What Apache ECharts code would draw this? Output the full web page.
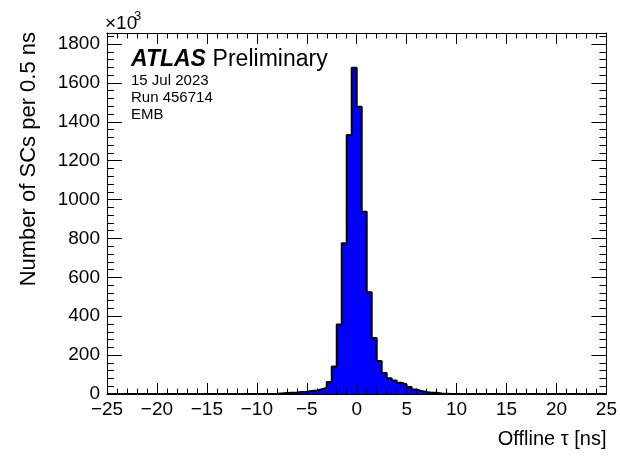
<!DOCTYPE html>
<html>
<head>
<meta charset="utf-8">
<script src="https://cdn.jsdelivr.net/npm/echarts@6/dist/echarts.min.js"></script>
<style>
html,body{margin:0;padding:0;background:#fff;}
#chart{width:620px;height:457px;}
</style>
</head>
<body>
<div id="chart"></div>
<script>
// Bin low edges (ns), 0.5 ns bins, region containing entries
const binLow = [-10,-9.5,-9,-8.5,-8,-7.5,-7,-6.5,-6,-5.5,
                -5,-4.5,-4,-3.5,-3,-2.5,-2,-1.5,-1,-0.5,
                0,0.5,1,1.5,2,2.5,3,3.5,4,4.5,
                5,5.5,6,6.5,7,7.5,8,8.5,9,9.5];
// Counts per bin (in units of 10^3)
const counts = [0,0,0,1,3,5,7,8,10,12,
                15,18,24,32,62,142,358,776,1332,1678,
                1478,938,523,288,170,108,81,69,58,48,
                36,23,15,10,7,6,2,1,0,0];
const binWidth = 0.5;
const xRange = [-25, 25];
const xTickStep = 5;
const yRange = [0, 1857];
const yTickStep = 200;

const FONT = '"Liberation Sans", Arial, Helvetica, sans-serif';

// Build step points: left edges + final right edge, with zero padding to axis ends
const pts = [[xRange[0], 0]];
for (let i = 0; i < binLow.length; i++) pts.push([binLow[i], counts[i]]);
pts.push([binLow[binLow.length - 1] + binWidth, 0]);
pts.push([xRange[1], 0]);

const chart = echarts.init(document.getElementById('chart'), null, {renderer: 'canvas'});

const fmtX = v => (v < 0 ? '\u2212' + Math.abs(v) : String(v));

const xBase = {
  type: 'value', min: xRange[0], max: xRange[1], interval: xTickStep,
  z: 10,
  axisLine: {show: true, onZero: false, lineStyle: {color: '#000', width: 1}},
  splitLine: {show: false},
  minorTick: {show: true, splitNumber: 5, length: 5.5, lineStyle: {color: '#000', width: 1}},
  axisTick: {show: true, inside: true, length: 11, lineStyle: {color: '#000', width: 1}}
};
const yBase = {
  type: 'value', min: yRange[0], max: yRange[1], interval: yTickStep,
  z: 10,
  axisLine: {show: true, onZero: false, lineStyle: {color: '#000', width: 1}},
  splitLine: {show: false},
  minorTick: {show: true, splitNumber: 5, length: 7, lineStyle: {color: '#000', width: 1}},
  axisTick: {show: true, inside: true, length: 15, lineStyle: {color: '#000', width: 1}}
};

chart.setOption({
  animation: false,
  backgroundColor: '#fff',
  grid: {left: 107, right: 10, top: 33, bottom: 63, containLabel: false},
  xAxis: [
    Object.assign({}, xBase, {
      position: 'bottom',
      axisLabel: {show: true, margin: 6, color: '#000', fontSize: 19, fontFamily: FONT,
                  formatter: fmtX, showMinLabel: true, showMaxLabel: true},
      name: 'Offline \u03c4 [ns]', nameLocation: 'end', nameGap: 0,
      nameTextStyle: {color: '#000', fontSize: 20, fontFamily: FONT, align: 'right',
                      verticalAlign: 'top', padding: [35, 0, 0, 0]}
    }),
    Object.assign({}, xBase, {position: 'top', axisLabel: {show: false}})
  ],
  yAxis: [
    Object.assign({}, yBase, {
      position: 'left',
      axisLabel: {show: true, margin: 7, color: '#000', fontSize: 19, fontFamily: FONT,
                  showMaxLabel: false,
                  formatter: v => (v % yTickStep === 0 ? String(v) : '')}
    }),
    Object.assign({}, yBase, {position: 'right', axisLabel: {show: false}})
  ],
  series: [{
    type: 'line',
    xAxisIndex: 0, yAxisIndex: 0,
    data: pts,
    step: 'end',
    symbol: 'none',
    z: 2,
    lineStyle: {color: '#000', width: 2},
    areaStyle: {color: '#0000ff', opacity: 1}
  }],
  graphic: [
    {type: 'text', x: 105, y: 24,
     style: {text: '\u00d710', fill: '#000', font: '19px ' + FONT, textVerticalAlign: 'middle'}},
    {type: 'text', x: 134, y: 16,
     style: {text: '3', fill: '#000', font: '13px ' + FONT, textVerticalAlign: 'middle'}},
    {type: 'text', x: 29, y: 32, rotation: Math.PI / 2,
     style: {text: 'Number of SCs per 0.5 ns', fill: '#000', font: '22px ' + FONT,
             textAlign: 'right', textVerticalAlign: 'middle'}},
    {type: 'text', x: 131, y: 60,
     style: {text: '{b|ATLAS}  {n|Preliminary}', textVerticalAlign: 'middle',
             rich: {b: {fontSize: 23, fontWeight: 'bold', fontStyle: 'italic', fontFamily: FONT, fill: '#000'},
                    n: {fontSize: 23, fontFamily: FONT, fill: '#000'}}}},
    {type: 'text', x: 131, y: 81,
     style: {text: '15 Jul 2023', fill: '#000', font: '15px ' + FONT, textVerticalAlign: 'middle'}},
    {type: 'text', x: 131, y: 98,
     style: {text: 'Run 456714', fill: '#000', font: '15px ' + FONT, textVerticalAlign: 'middle'}},
    {type: 'text', x: 131, y: 115,
     style: {text: 'EMB', fill: '#000', font: '15px ' + FONT, textVerticalAlign: 'middle'}}
  ]
});
</script>
</body>
</html>
